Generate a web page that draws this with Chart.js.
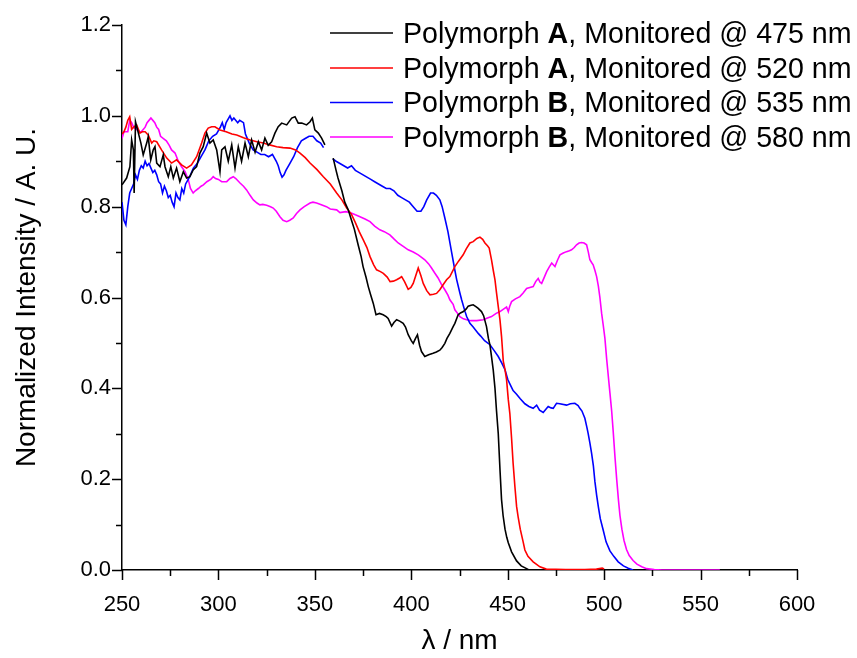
<!DOCTYPE html>
<html><head><meta charset="utf-8">
<script src="https://cdn.jsdelivr.net/npm/chart.js@4.4.0/dist/chart.umd.min.js"></script>
<style>html,body{margin:0;padding:0;background:#fff}#wrap{width:857px;height:658px}</style>
</head><body><div id="wrap"><canvas id="c" width="857" height="658"></canvas></div>
<script>
// ---- data (wavelength nm, normalized intensity) ----
const polymorphs = ['A', 'A', 'B', 'B'];
const monitoredNm = [475, 520, 535, 580];
const xTicks = [250, 300, 350, 400, 450, 500, 550, 600];
const yTicks = ['0.0', '0.2', '0.4', '0.6', '0.8', '1.0', '1.2'];

const polyA475 = [[250,.848],[252.4,.863],[254.1,.888],[255,.947],[255.9,.925],[256.3,.83],[257,.987],[258.5,.962],[259.8,.94],[261,.914],[262.8,.94],[263.6,.954],[264.9,.903],[266.2,.925],[267.1,.932],[268,.896],[269.7,.888],[271.4,.914],[272.3,.888],[274,.866],[275.3,.888],[276.6,.863],[278.3,.885],[280,.855],[281.8,.877],[283.5,.863],[285.2,.866],[286.9,.881],[288.7,.888],[290.4,.918],[292.1,.932],[293.9,.962],[295.6,.94],[297.3,.947],[299.1,.925],[300.8,.877],[301.7,.925],[303.4,.932],[305.1,.9],[306.9,.936],[308.6,.885],[310.3,.932],[312,.9],[313.8,.94],[315.5,.91],[317.2,.947],[319,.92],[320.7,.943],[322.4,.925],[324.1,.951],[325.8,.935],[327.6,.943],[329.3,.962],[331,.976],[332.8,.984],[335.4,.98],[338,.995],[339.7,.998],[341.4,.984],[343.2,.984],[345.7,.98],[347.5,.987],[348.7,.995],[350,.969],[351.8,.962],[353.5,.951],[355.2,.936],[357,null],
 [359.5,.907],[361,.88],[362,.863],[364,.835],[365.5,.81],[367.3,.793],[369,.77],[370.5,.75],[372.5,.715],[374,.69],[375,.668],[376.5,.645],[377.7,.624],[379,.605],[380.3,.587],[381.7,.562],[383.5,.565],[385.4,.562],[387,.558],[388,.554],[389.8,.537],[391,.545],[392.4,.551],[394,.548],[395.8,.543],[397,.535],[398.4,.518],[400,.505],[401,.499],[402.2,.51],[403.2,.518],[404.3,.495],[405.3,.481],[407,.47],[409,.474],[411.3,.477],[413,.48],[414.8,.484],[416,.49],[417.4,.499],[418.5,.51],[420,.521],[421.7,.536],[422.6,.543],[424.3,.562],[425.5,.566],[427,.569],[428.5,.575],[429.5,.581],[431,.583],[432.1,.584],[433.5,.58],[434.7,.576],[436.4,.569],[437.5,.56],[439,.536],[440,.51],[440.8,.495],[441.6,.47],[442.5,.44],[443.4,.40],[444.2,.35],[445.1,.30],[446,.22],[446.8,.155],[447.6,.12],[448.6,.09],[449.5,.072],[450.3,.06],[452,.04],[454.6,.02],[457,.009],[459.8,.003],[461,0]];

const polyA520 = [[250,.96],[251,.965],[252,.975],[253,.99],[254,.998],[255,.97],[256,.975],[257.6,.98],[259.3,.962],[260.5,.965],[262,.965],[263.6,.958],[265.4,.94],[266.5,.945],[268,.943],[270.5,.925],[273.2,.907],[275.7,.896],[278.3,.903],[280.9,.892],[283.5,.885],[286,.892],[288.7,.91],[291.3,.94],[293,.962],[294.7,.973],[296.5,.976],[298.2,.976],[300.8,.969],[304,.965],[307,.96],[309.5,.958],[313,.952],[316.4,.947],[320,.943],[323.3,.94],[326.5,.936],[330.2,.932],[333.5,.93],[337.1,.929],[340,.925],[342.3,.918],[345,.908],[347.5,.896],[351,.882],[354.4,.866],[358,.85],[361.3,.83],[364,.815],[366.5,.797],[369,.783],[371,.765],[373,.745],[375.1,.727],[377,.71],[378.6,.69],[380.5,.672],[382,.661],[384,.657],[385.5,.653],[387.5,.645],[389,.635],[390.7,.636],[392.4,.639],[394,.643],[395,.646],[396.5,.635],[398.4,.618],[399.8,.622],[401,.631],[402.3,.648],[403.6,.665],[405,.648],[406.2,.631],[408,.615],[409.7,.606],[411.5,.607],[413.1,.609],[414.8,.617],[416.5,.628],[418.3,.639],[420,.646],[422.6,.668],[424.5,.68],[426.9,.694],[428.5,.707],[430.4,.72],[432.1,.723],[434,.73],[435.6,.733],[437,.728],[438.2,.72],[439.5,.714],[440.4,.709],[441.6,.683],[442.5,.66],[443.4,.639],[444.2,.61],[445.1,.58],[446,.55],[446.8,.514],[447.7,.46],[448.6,.441],[449.4,.419],[450.3,.375],[451.1,.345],[452,.29],[452.8,.235],[453.7,.185],[454.6,.14],[455.4,.117],[456.5,.09],[458,.062],[458.9,.044],[460.5,.03],[463.2,.018],[466.7,.007],[470,.002],[480,.001],[490,.001],[496,.002],[499,.004],[500,.002]];

const polyB535 = [[250,.81],[251,.77],[252,.76],[253,.80],[254,.83],[255,.84],[256,.85],[257,.87],[258,.86],[259,.88],[260,.89],[261,.885],[262,.90],[263,.89],[264,.895],[265,.885],[266,.875],[267,.88],[268,.87],[269,.855],[270,.85],[271,.83],[272,.845],[273,.835],[274,.82],[275,.825],[276,.81],[277,.80],[278,.83],[279,.82],[280,.815],[281,.84],[282,.83],[283,.85],[285,.865],[287,.885],[289,.895],[291,.91],[293,.925],[295,.945],[297,.955],[299,.96],[301,.975],[302,.985],[303,.97],[304,.985],[306,1.0],[307,.99],[308,.995],[310,.985],[311,.99],[313,.985],[314,.96],[316,.94],[318,.925],[320,.92],[322,.915],[324,.915],[326,.91],[328,.915],[330,.90],[331,.89],[332,.875],[333,.865],[334,.87],[335,.88],[337,.895],[339,.91],[341,.93],[343,.945],[345,.95],[347,.955],[349,.955],[351,.945],[353,.94],[354.5,.93],[357,null],
 [359.3,.905],[361,.90],[363,.895],[365,.89],[367,.885],[369,.89],[371,.88],[373,.875],[375,.87],[377,.865],[379,.86],[381,.855],[383,.85],[385,.845],[387,.84],[389,.84],[391,.835],[393,.825],[395,.82],[397,.815],[399,.81],[401,.80],[403,.79],[405,.79],[406.5,.80],[408,.815],[410,.83],[411.5,.83],[413,.825],[414.8,.815],[416,.80],[417.4,.775],[419,.745],[420.9,.70],[422.6,.66],[423.5,.64],[425.2,.61],[426.1,.595],[427.8,.57],[428.7,.558],[430.4,.543],[432.1,.535],[434.7,.521],[436,.515],[438,.505],[440.8,.496],[443,.483],[445.1,.47],[447,.455],[448.6,.441],[450,.42],[451.1,.41],[452.8,.395],[454.6,.387],[456.5,.377],[458.9,.366],[461,.36],[463.2,.356],[465,.363],[466.5,.352],[468.4,.347],[470,.355],[471,.36],[472.5,.357],[473.6,.356],[475.3,.367],[477,.366],[480.5,.363],[482.5,.366],[484.8,.367],[486.5,.362],[487.4,.356],[488.5,.35],[490,.334],[491,.315],[491.7,.301],[492.6,.28],[493.5,.257],[494.4,.23],[495.2,.195],[496.1,.165],[497,.139],[498,.113],[499.5,.088],[501,.062],[503,.042],[505,.03],[507.3,.018],[510,.009],[512.5,.004],[515,0]];

const polyB580 = [[250,.95],[251,.965],[252,.965],[253,.965],[254,.99],[255,.985],[256,.975],[257.5,.97],[259,.965],[260,.965],[261,.97],[262,.975],[263,.985],[264,.99],[265,.995],[266,.99],[267,.985],[268,.975],[269,.97],[270,.955],[271.5,.95],[273,.945],[274.5,.935],[275.7,.925],[277.5,.918],[279.2,.90],[280.9,.888],[282.7,.877],[284.4,.859],[285.5,.84],[286.9,.83],[288,.835],[289.6,.84],[291,.845],[292.2,.848],[294,.855],[296,.86],[297.3,.866],[298.5,.862],[300,.86],[301.7,.855],[303,.855],[304.3,.855],[306,.862],[307.7,.866],[309,.862],[311.2,.852],[313,.845],[314.6,.837],[316.4,.825],[318.1,.815],[320,.808],[321.5,.804],[323,.805],[325,.803],[327,.80],[328.4,.797],[330,.79],[331.9,.778],[333.5,.77],[335.4,.767],[337,.77],[338.8,.775],[340.5,.785],[342.3,.793],[344.5,.80],[347.5,.808],[349,.81],[350.9,.808],[353,.805],[356,.80],[358,.795],[361.3,.793],[363,.787],[366,.789],[368.2,.787],[371,.782],[373.4,.778],[376,.773],[378.6,.767],[381,.757],[383.7,.749],[386,.745],[388.9,.738],[391,.729],[393.2,.72],[396,.712],[398.4,.705],[401,.70],[403.6,.694],[405.5,.688],[407,.683],[409,.674],[410.5,.665],[412,.655],[413.9,.643],[415.5,.63],[417.4,.617],[419,.605],[420,.595],[421.7,.585],[422.6,.573],[424,.565],[425.2,.558],[427,.553],[428.7,.551],[431,.549],[433.9,.549],[437.3,.551],[439.5,.555],[441.6,.558],[444,.565],[446,.569],[448,.575],[449.4,.579],[450.3,.569],[451,.58],[452,.591],[454,.597],[456.3,.602],[458,.61],[459.8,.62],[461.5,.622],[463.2,.624],[464.5,.635],[465.8,.642],[466.7,.634],[467.6,.631],[469,.645],[470.2,.657],[471.5,.667],[472.8,.676],[474.5,.668],[475.8,.682],[477.1,.694],[478.8,.698],[480.5,.701],[482,.703],[483.1,.705],[484.5,.71],[485.7,.716],[487,.72],[488.3,.721],[489.6,.72],[490.9,.716],[491.8,.70],[492.6,.683],[493.5,.677],[494.3,.672],[495.2,.66],[496.1,.646],[497,.625],[497.8,.60],[498.7,.565],[499.5,.54],[500.4,.51],[501.3,.465],[502.2,.425],[503,.39],[503.9,.35],[504.7,.305],[505.6,.25],[506.5,.20],[507.4,.155],[508.2,.12],[509.2,.09],[510.3,.065],[511.6,.045],[513,.032],[515,.021],[517,.013],[519.5,.007],[522,.003],[526,.001],[530,0],[545,0],[560,0]];

const seriesData = [polyA475, polyA520, polyB535, polyB580];
const seriesColors = ['#000000', '#ff0000', '#0000ff', '#ff00ff'];

// ---- chart ----
const FONT = '"Liberation Sans", Arial, Helvetica, sans-serif';

const datasets = seriesData.map((arr, i) => ({
  label: 'Polymorph ' + polymorphs[i] + ', Monitored @ ' + monitoredNm[i] + ' nm',
  data: arr.map(p => ({x: p[0], y: p[1]})),
  borderColor: seriesColors[i],
  backgroundColor: seriesColors[i],
  borderWidth: 1.6,
  pointRadius: 0,
  tension: 0,
  spanGaps: false,
  fill: false
}));

const tickPlugin = {
  id: 'ticksAndLegend',
  afterDraw(chart) {
    const ctx = chart.ctx;
    const xs = chart.scales.x, ys = chart.scales.y;
    const ca = chart.chartArea;
    ctx.save();
    ctx.strokeStyle = '#000';
    ctx.lineWidth = 1.5;
    ctx.beginPath();
    for (let v = xs.min; v <= xs.max + 1e-6; v += 25) {
      const px = Math.round(xs.getPixelForValue(v)) + 0.5;
      const len = xTicks.includes(v) ? 10 : 6;
      ctx.moveTo(px, ca.bottom);
      ctx.lineTo(px, ca.bottom + len);
    }
    for (let k = 0; k <= 12; k++) {
      const v = k / 10;
      const py = Math.round(ys.getPixelForValue(v)) + 0.5;
      const len = (k % 2 === 0) ? 10 : 6;
      ctx.moveTo(ca.left - len, py);
      ctx.lineTo(ca.left, py);
    }
    ctx.stroke();

    // legend with bold polymorph letter
    const rowY = [33, 68, 102.5, 137];
    ctx.textBaseline = 'middle';
    ctx.textAlign = 'left';
    chart.data.datasets.forEach((ds, i) => {
      const y = rowY[i];
      ctx.strokeStyle = ds.borderColor;
      ctx.lineWidth = 1.5;
      ctx.beginPath();
      ctx.moveTo(330, y);
      ctx.lineTo(393, y);
      ctx.stroke();
      let x = 403;
      ctx.fillStyle = '#000';
      const parts = [
        ['Polymorph ', 'normal'],
        [polymorphs[i], 'bold'],
        [', Monitored @ ' + monitoredNm[i] + ' nm', 'normal']
      ];
      parts.forEach(([t, w]) => {
        ctx.font = w + ' 28.6px ' + FONT;
        ctx.fillText(t, x, y + 2);
        x += ctx.measureText(t).width;
      });
    });
    ctx.restore();
  }
};

new Chart(document.getElementById('c'), {
  type: 'line',
  data: {datasets},
  plugins: [tickPlugin],
  options: {
    responsive: false,
    animation: false,
    devicePixelRatio: 1,
    layout: {padding: {left: 0, top: 25, right: 60, bottom: 0}},
    plugins: {legend: {display: false}, tooltip: {enabled: false}},
    scales: {
      x: {
        type: 'linear', min: 250, max: 600,
        afterFit: s => { s.height = 88; },
        border: {display: true, color: '#000', width: 1.5},
        grid: {display: true, drawOnChartArea: false, drawTicks: true, tickLength: 10, color: 'rgba(0,0,0,0)'},
        ticks: {stepSize: 50, color: '#000', font: {size: 22, family: FONT}, padding: 12, maxRotation: 0,
          callback: v => xTicks.includes(v) ? String(v) : ''},
        title: {display: true, text: 'λ / nm', color: '#000', font: {size: 28, family: FONT}, padding: {top: 0, bottom: 0}}
      },
      y: {
        type: 'linear', min: 0, max: 1.2,
        afterFit: s => { s.width = 122; },
        border: {display: true, color: '#000', width: 1.5},
        grid: {display: true, drawOnChartArea: false, drawTicks: true, tickLength: 10, color: 'rgba(0,0,0,0)'},
        ticks: {stepSize: 0.2, color: '#000', font: {size: 22, family: FONT}, padding: 1,
          callback: v => { const s = (Math.round(v * 10) / 10).toFixed(1); return yTicks.includes(s) ? s : ''; }},
        title: {display: true, text: 'Normalized Intensity / A. U.', color: '#000', font: {size: 28, family: FONT}, padding: {top: 10, bottom: 0}}
      }
    }
  }
});
</script>
</body></html>
